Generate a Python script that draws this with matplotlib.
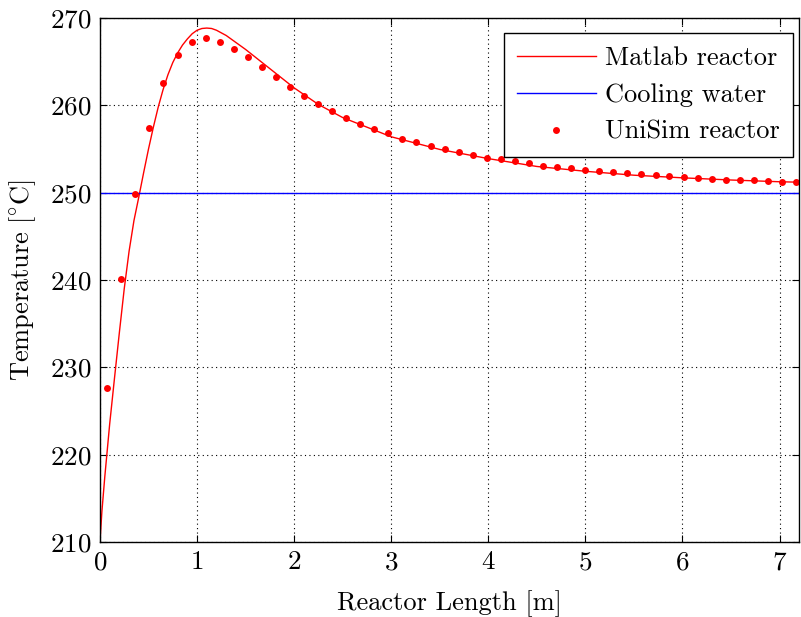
import matplotlib
matplotlib.use("Agg")
import matplotlib.pyplot as plt

# Matlab reactor temperature profile
matlab_x = [0.0, 0.02, 0.05, 0.1, 0.15, 0.2, 0.25, 0.3, 0.35, 0.4, 0.45, 0.5, 0.55, 0.6, 0.65, 0.7,
            0.75, 0.8, 0.85, 0.9, 0.95, 1.0, 1.05, 1.1, 1.15, 1.2, 1.3, 1.4, 1.5, 1.75, 2.0,
            2.25, 2.5, 3.0, 3.5, 4.0, 4.5, 5.0, 5.5, 6.0, 6.5, 7.0, 7.2]
matlab_T = [210.0, 213.5, 217.5, 223.5, 228.8, 234.0, 239.0, 243.3, 246.8, 249.5, 252.3, 255.0,
            257.5, 259.8, 261.8, 263.5, 264.9, 266.0, 266.9, 267.6, 268.2, 268.6, 268.8, 268.85,
            268.8, 268.6, 268.0, 267.2, 266.4, 264.2, 262.0, 260.1, 258.6, 256.4, 254.95, 253.9,
            253.0, 252.45, 252.0, 251.7, 251.45, 251.25, 251.2]

# Cooling water temperature
cooling_x = [0.0, 7.2]
cooling_T = [250.0, 250.0]

# UniSim reactor points
unisim_x = [0.075, 0.220, 0.365, 0.509, 0.654, 0.799, 0.944, 1.089, 1.233, 1.378,
            1.523, 1.668, 1.812, 1.957, 2.102, 2.247, 2.392, 2.536, 2.681, 2.826,
            2.971, 3.116, 3.260, 3.405, 3.550, 3.695, 3.839, 3.984, 4.129, 4.274,
            4.419, 4.563, 4.708, 4.853, 4.998, 5.142, 5.287, 5.432, 5.577, 5.722,
            5.866, 6.011, 6.156, 6.301, 6.446, 6.590, 6.735, 6.880, 7.025, 7.170]
unisim_T = [227.6, 240.1, 249.9, 257.4, 262.6, 265.8, 267.3, 267.7, 267.3, 266.5,
            265.5, 264.4, 263.2, 262.1, 261.1, 260.2, 259.35, 258.6, 257.9, 257.3,
            256.8, 256.2, 255.75, 255.4, 255.0, 254.65, 254.3, 254.0, 253.8, 253.6,
            253.35, 253.1, 252.9, 252.8, 252.6, 252.5, 252.35, 252.2, 252.1, 252.0,
            251.9, 251.8, 251.7, 251.6, 251.5, 251.45, 251.4, 251.3, 251.25, 251.2]

xticks = [0, 1, 2, 3, 4, 5, 6, 7]
yticks = [210, 220, 230, 240, 250, 260, 270]

plt.rcParams['font.family'] = ['cmr10', 'DejaVu Serif']
plt.rcParams['mathtext.fontset'] = 'cm'
plt.rcParams['axes.formatter.use_mathtext'] = True

fig = plt.figure(figsize=(8.01, 6.17), dpi=100)
ax = fig.add_axes([0.1248, 0.1216, 0.8727, 0.8492])

ax.plot(matlab_x, matlab_T, color='red', lw=1.0, label='Matlab reactor')
ax.plot(cooling_x, cooling_T, color='blue', lw=1.0, label='Cooling water')
ax.plot(unisim_x, unisim_T, ls='none', marker='o', ms=5, color='red',
        markeredgewidth=0, label='UniSim reactor')

ax.set_xlim(0, 7.2)
ax.set_ylim(210, 270)
ax.set_xticks(xticks)
ax.set_yticks(yticks)
ax.grid(True, color='black', ls=(0, (1, 3)), lw=0.8)
ax.tick_params(direction='in', top=True, right=True, labelsize=19.5, length=5, width=0.8, pad=6)
for s in ax.spines.values():
    s.set_linewidth(1.0)

ax.set_xlabel('Reactor Length [m]', fontsize=19, labelpad=12)
ax.set_ylabel(r'$\mathrm{Temperature\ [^{\circ}C]}$', fontsize=19, labelpad=9)

leg = ax.legend(loc='upper right', bbox_to_anchor=(0.9914, 0.9714), fontsize=19,
                fancybox=False, edgecolor='black', framealpha=1, borderaxespad=0,
                handlelength=3.0, handletextpad=0.34, borderpad=0.5, labelspacing=0.5)
leg.get_frame().set_linewidth(1.0)

fig.savefig('out.png', dpi=100)
